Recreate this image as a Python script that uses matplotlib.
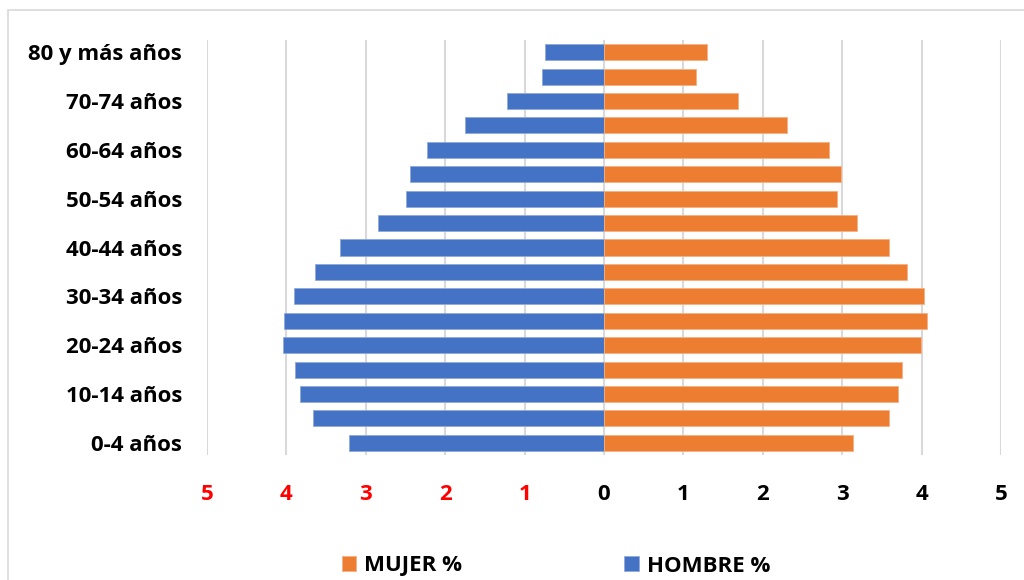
import matplotlib
matplotlib.use("Agg")
import matplotlib.pyplot as plt
from matplotlib.patches import Rectangle

plt.rcParams['font.family'] = ['Open Sans', 'DejaVu Sans']

age_groups = ["0-4 años", "5-9 años", "10-14 años", "15-19 años", "20-24 años",
              "25-29 años", "30-34 años", "35-39 años", "40-44 años", "45-49 años",
              "50-54 años", "55-59 años", "60-64 años", "65-69 años", "70-74 años",
              "75-79 años", "80 y más años"]
hombre = [3.21, 3.67, 3.83, 3.89, 4.04, 4.03, 3.90, 3.64, 3.32, 2.85,
          2.50, 2.44, 2.23, 1.75, 1.22, 0.78, 0.745]
mujer = [3.14, 3.59, 3.70, 3.75, 3.99, 4.07, 4.03, 3.81, 3.59, 3.19,
         2.94, 2.98, 2.83, 2.30, 1.69, 1.16, 1.30]
xticks = [-5, -4, -3, -2, -1, 0, 1, 2, 3, 4, 5]

fig = plt.figure(figsize=(10.24, 5.8), dpi=100)
fig.patches.append(Rectangle((8/1024, -0.1), 1.2, 1 - 10/580 + 0.1,
                             transform=fig.transFigure, fill=False,
                             edgecolor='#d9d9d9', linewidth=1.2))
ax = fig.add_axes([207/1024, 1 - 455/580, (1001 - 207)/1024, 415/580])

y = list(range(len(age_groups)))
bh = 0.66
ax.barh(y, [-v for v in hombre], height=bh, color='#4472C4', edgecolor='#8faadc',
        linewidth=0.6, label='HOMBRE %', zorder=3)
ax.barh(y, mujer, height=bh, color='#ED7D31', edgecolor='#f4b183',
        linewidth=0.6, label='MUJER %', zorder=3)

fs = 16
ax.set_xlim(-5, 5)
ax.set_ylim(-0.5, len(age_groups) - 0.5)
ax.set_xticks(xticks)
ax.set_xticklabels([str(abs(t)) for t in xticks], fontsize=fs, fontweight='bold')
for t, lab in zip(xticks, ax.get_xticklabels()):
    lab.set_color('#ff0000' if t < 0 else 'black')
ax.set_yticks(y[::2])
ax.set_yticklabels(age_groups[::2], fontsize=fs, fontweight='bold')
ax.tick_params(axis='both', length=0)
ax.tick_params(axis='x', pad=21)
ax.tick_params(axis='y', pad=18)
ax.grid(axis='x', color='#d9d9d9', linewidth=1.5, zorder=0)
for s in ax.spines.values():
    s.set_visible(False)

handles, labels = ax.get_legend_handles_labels()
leg = fig.legend([handles[1], handles[0]], [labels[1], labels[0]],
                 loc='center', bbox_to_anchor=(0.543, 1 - 566/580), ncol=2,
                 frameon=False, prop={'size': fs, 'weight': 'bold'},
                 handlelength=0.65, handleheight=0.65, columnspacing=7.3,
                 handletextpad=0.35)

fig.savefig('out.png', dpi=100)
